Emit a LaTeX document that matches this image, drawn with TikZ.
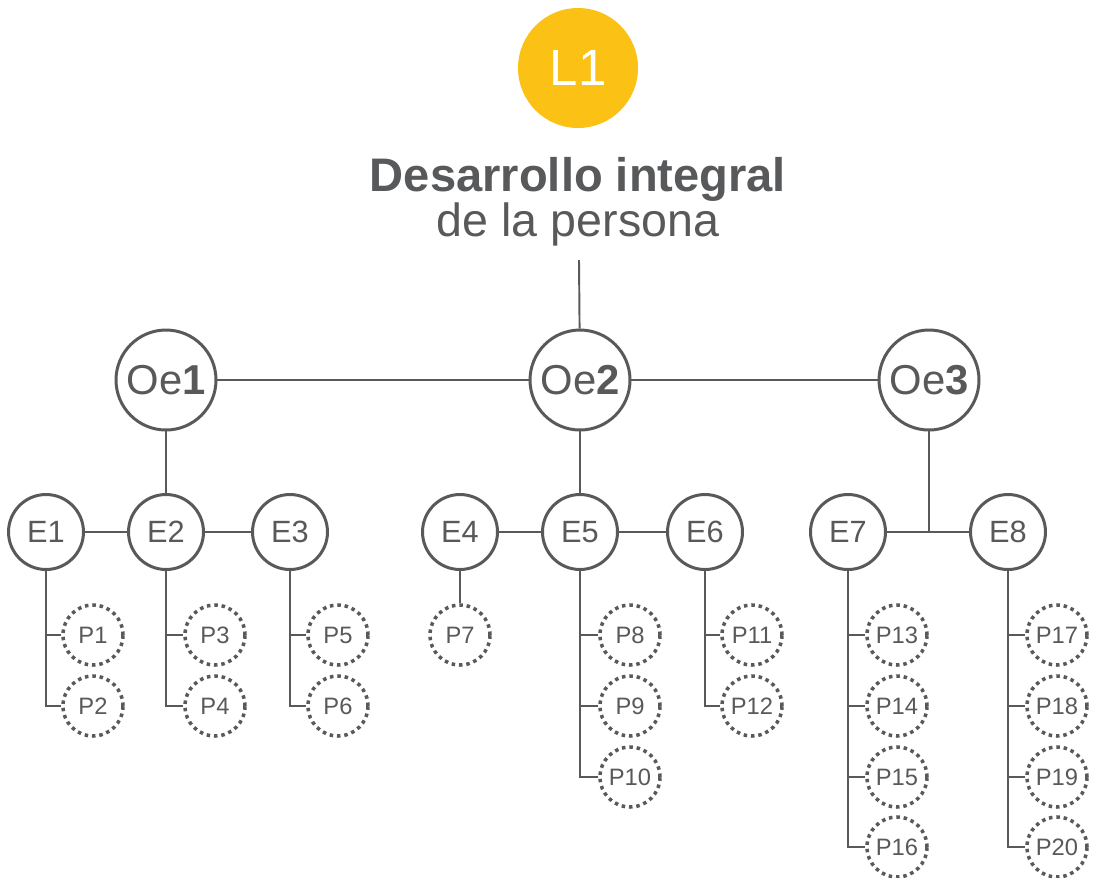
\documentclass[tikz,border=0pt]{standalone}
\usepackage{fontspec}
\setmainfont{Liberation Sans}
\definecolor{ink}{HTML}{58595B}
\definecolor{gold}{HTML}{FBC115}

\begin{document}
\begin{tikzpicture}[x=0.02cm,y=-0.02cm]

\tikzset{lema/.style = {shape=circle,fill=gold,minimum size=2.4cm,inner sep=0pt,text=white,font=\fontsize{29}{32}\selectfont}}
\tikzset{obj/.style = {shape=circle,draw=ink,line width=1.7pt,fill=white,minimum size=2cm,inner sep=0pt,text=ink,font=\fontsize{23.8}{26}\selectfont}}
\tikzset{est/.style = {shape=circle,draw=ink,line width=1.7pt,fill=white,minimum size=1.5cm,inner sep=0pt,text=ink,font=\fontsize{17.5}{20}\selectfont}}
\tikzset{prog/.style = {shape=circle,draw=ink,line width=2pt,dash pattern=on 2pt off 2.2pt,minimum size=1.2cm,inner sep=0pt,text=ink,font=\fontsize{13.5}{16}\selectfont}}
\tikzset{edge/.style = {draw=ink,line width=1.1pt}}

\useasboundingbox (0,0) rectangle (1098,877);

%top
\node[lema] (l1) at (578,68) {L1};
\node[anchor=base, text=ink, font=\fontsize{26.8}{30}\selectfont\bfseries] (tit) at (578,191) {Desarrollo integral};
\node[anchor=base, text=ink, font=\fontsize{26.5}{30}\selectfont] (sub) at (578,236) {de la persona};
\coordinate (stem) at (579,260);

%objectives
\node[obj] (oe1) at (166,380) {Oe\textbf{1}};
\node[obj] (oe2) at (580,380) {Oe\textbf{2}};
\node[obj] (oe3) at (929,380) {Oe\textbf{3}};
\coordinate (fork) at (929,532);

%strategies
\node[est] (e1) at (46,532) {E1};
\node[est] (e2) at (166,532) {E2};
\node[est] (e3) at (290,532) {E3};
\node[est] (e4) at (460,532) {E4};
\node[est] (e5) at (580,532) {E5};
\node[est] (e6) at (705,532) {E6};
\node[est] (e7) at (848,532) {E7};
\node[est] (e8) at (1008,532) {E8};

%programs
\node[prog] (p1) at (93,635) {P1};
\node[prog] (p2) at (93,706) {P2};
\node[prog] (p3) at (215,635) {P3};
\node[prog] (p4) at (215,706) {P4};
\node[prog] (p5) at (338,635) {P5};
\node[prog] (p6) at (338,706) {P6};
\node[prog] (p7) at (460,635) {P7};
\node[prog] (p8) at (630,635) {P8};
\node[prog] (p9) at (630,706) {P9};
\node[prog] (p10) at (630,777) {P10};
\node[prog] (p11) at (752,635) {P11};
\node[prog] (p12) at (752,706) {P12};
\node[prog] (p13) at (897,635) {P13};
\node[prog] (p14) at (897,706) {P14};
\node[prog] (p15) at (897,777) {P15};
\node[prog] (p16) at (897,847) {P16};
\node[prog] (p17) at (1057,635) {P17};
\node[prog] (p18) at (1057,706) {P18};
\node[prog] (p19) at (1057,777) {P19};
\node[prog] (p20) at (1057,847) {P20};

%edges
\path[edge] (stem) -- (oe2);
\path[edge] (oe1) -- (oe2);
\path[edge] (oe2) -- (oe3);
\path[edge] (oe1) -- (e2);
\path[edge] (oe2) -- (e5);
\path[edge] (oe3) -- (fork);
\path[edge] (e1) -- (e2);
\path[edge] (e2) -- (e3);
\path[edge] (e4) -- (e5);
\path[edge] (e5) -- (e6);
\path[edge] (e7) -- (e8);
\path[edge] (e1) |- (p1);
\path[edge] (e1) |- (p2);
\path[edge] (e2) |- (p3);
\path[edge] (e2) |- (p4);
\path[edge] (e3) |- (p5);
\path[edge] (e3) |- (p6);
\path[edge] (e4) -- (p7);
\path[edge] (e5) |- (p8);
\path[edge] (e5) |- (p9);
\path[edge] (e5) |- (p10);
\path[edge] (e6) |- (p11);
\path[edge] (e6) |- (p12);
\path[edge] (e7) |- (p13);
\path[edge] (e7) |- (p14);
\path[edge] (e7) |- (p15);
\path[edge] (e7) |- (p16);
\path[edge] (e8) |- (p17);
\path[edge] (e8) |- (p18);
\path[edge] (e8) |- (p19);
\path[edge] (e8) |- (p20);

\end{tikzpicture}
\end{document}
